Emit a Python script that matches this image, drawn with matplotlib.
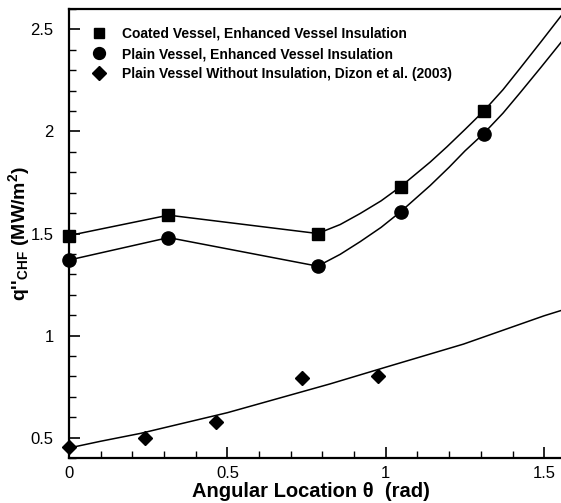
import matplotlib
matplotlib.use("Agg")
import matplotlib.pyplot as plt
from matplotlib.ticker import MultipleLocator

plt.rcParams['font.family'] = ['Liberation Sans', 'DejaVu Sans']
plt.rcParams['mathtext.fontset'] = 'custom'
plt.rcParams['mathtext.rm'] = 'Liberation Sans:bold'
plt.rcParams['mathtext.it'] = 'Liberation Sans:bold'
plt.rcParams['mathtext.bf'] = 'Liberation Sans:bold'

# ---- data ----
coated_x = [0.0, 0.314, 0.785, 1.047, 1.309]
coated_y = [1.49, 1.59, 1.50, 1.73, 2.10]
plain_x = [0.0, 0.314, 0.785, 1.047, 1.309]
plain_y = [1.37, 1.48, 1.34, 1.607, 1.99]
dizon_x = [0.0, 0.24, 0.464, 0.734, 0.974]
dizon_y = [0.455, 0.498, 0.577, 0.791, 0.804]

# fitted curves
coated_fit_x = [0.0, 0.314, 0.785, 0.856, 0.919, 0.985, 1.047, 1.14, 1.193, 1.25, 1.309, 1.37, 1.424, 1.49, 1.56]
coated_fit_y = [1.49, 1.59, 1.50, 1.544, 1.598, 1.66, 1.73, 1.85, 1.925, 2.01, 2.10, 2.205, 2.31, 2.44, 2.58]
plain_fit_x = [0.0, 0.314, 0.785, 0.856, 0.919, 0.985, 1.047, 1.14, 1.20, 1.25, 1.309, 1.37, 1.424, 1.49, 1.56]
plain_fit_y = [1.37, 1.48, 1.34, 1.398, 1.46, 1.53, 1.607, 1.735, 1.825, 1.905, 1.99, 2.09, 2.19, 2.315, 2.45]
dizon_fit_x = [0.0, 0.1, 0.224, 0.5, 0.824, 1.0, 1.245, 1.5, 1.56]
dizon_fit_y = [0.449, 0.482, 0.52, 0.622, 0.763, 0.845, 0.958, 1.097, 1.126]

labels = ["Coated Vessel, Enhanced Vessel Insulation",
          "Plain Vessel, Enhanced Vessel Insulation",
          "Plain Vessel Without Insulation, Dizon et al. (2003)"]

fig = plt.figure(figsize=(5.61, 5.03), dpi=100)
ax = fig.add_axes([0.123, 0.0895, 0.877, 0.8925])

lw = 1.1
ax.plot(coated_fit_x, coated_fit_y, color='black', lw=lw, zorder=2)
ax.plot(plain_fit_x, plain_fit_y, color='black', lw=lw, zorder=2)
ax.plot(dizon_fit_x, dizon_fit_y, color='black', lw=lw, zorder=2)

h1, = ax.plot(coated_x, coated_y, 's', color='black', ms=8.5, ls='none', clip_on=False, zorder=3)
h2, = ax.plot(plain_x, plain_y, 'o', color='black', ms=9.5, ls='none', clip_on=False, zorder=3)
h3, = ax.plot(dizon_x, dizon_y, 'D', color='black', ms=7.5, ls='none', clip_on=False, zorder=3)

ax.set_xlim(0, 1.553)
ax.set_ylim(0.4, 2.6)

ax.xaxis.set_minor_locator(MultipleLocator(0.1))
ax.yaxis.set_minor_locator(MultipleLocator(0.1))
ax.set_xticks([0, 0.5, 1, 1.5])
ax.set_xticklabels(['0', '0.5', '1', '1.5'])
ax.set_yticks([0.5, 1, 1.5, 2, 2.5])
ax.set_yticklabels(['0.5', '1', '1.5', '2', '2.5'])

ax.tick_params(which='major', direction='in', length=8, width=1.2, labelsize=12, pad=11)
ax.tick_params(which='minor', direction='in', length=5, width=1.0)
ax.tick_params(axis='x', which='major', pad=6)
ax.tick_params(top=False, right=False, which='both')

ax.spines['right'].set_visible(False)
for s in ['left', 'bottom', 'top']:
    ax.spines[s].set_linewidth(1.6)

ax.set_xlabel("Angular Location θ  (rad)", fontsize=14.5, fontweight='bold')
ax.xaxis.set_label_coords(0.492, -0.053)
ax.set_ylabel(r"q''$_{\rm CHF}$ (MW/m$^{2}$)", fontsize=14, fontweight='bold')
ax.yaxis.set_label_coords(-0.075, 0.5)

leg = ax.legend([h1, h2, h3], labels, loc='upper left', frameon=False,
                bbox_to_anchor=(0.025, 0.982), handletextpad=1.0, borderaxespad=0.3,
                labelspacing=0.45, prop={'weight': 'bold', 'size': 10}, handlelength=1.2,
                markerscale=0.9)

fig.savefig("out.png", dpi=100)
